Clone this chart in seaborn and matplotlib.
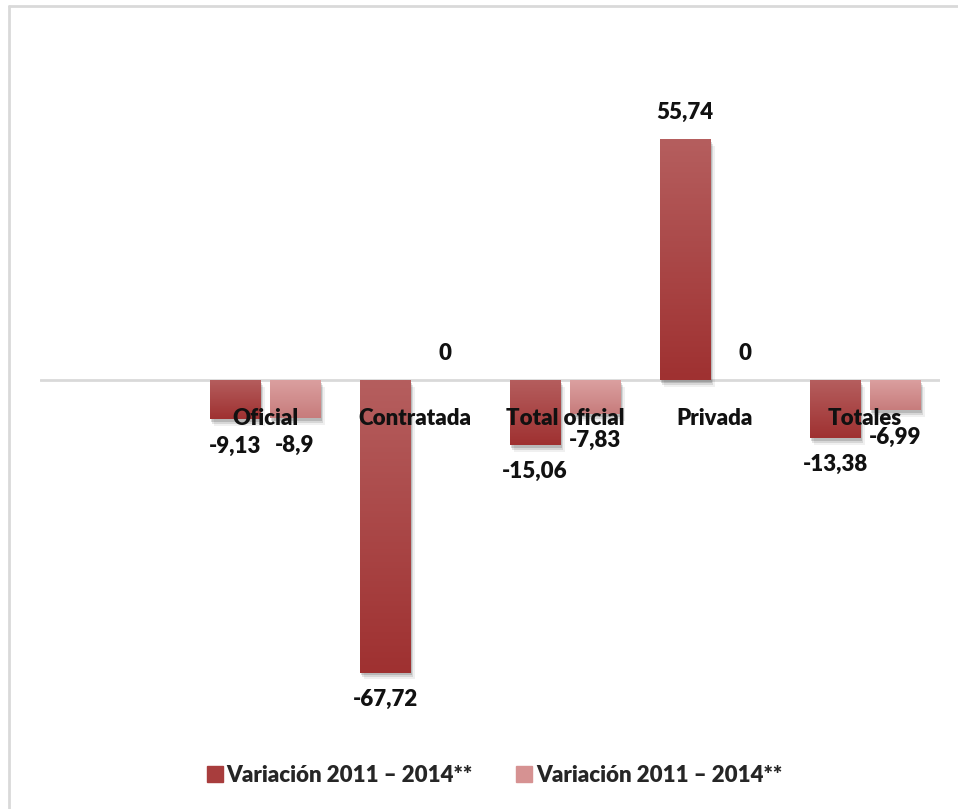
import numpy as np
import pandas as pd
import matplotlib
matplotlib.use("Agg")
import matplotlib.pyplot as plt
import matplotlib.patheffects as pe
from matplotlib.colors import LinearSegmentedColormap
from matplotlib.lines import Line2D
from matplotlib.patches import Rectangle
import seaborn as sns

categories = [" ", "Oficial", "Contratada", "Total oficial", "Privada", "Totales"]
data_categories = ["Oficial", "Contratada", "Total oficial", "Privada", "Totales"]
series_a = [-9.13, -67.72, -15.06, 55.74, -13.38]
series_b = [-8.9, 0.0, -7.83, 0.0, -6.99]
series_names = ["Variación 2011 – 2014**", "Variación 2011 – 2014** "]
label_a = ["-9,13", "-67,72", "-15,06", "55,74", "-13,38"]
label_b = ["-8,9", "0", "-7,83", "0", "-6,99"]

colors = ["#a83d3d", "#d69292"]
grad = [("#b55e5e", "#9f3131"), ("#dba0a0", "#c77c7c")]

df = pd.DataFrame({
    "cat": data_categories * 2,
    "val": series_a + series_b,
    "serie": [series_names[0]] * 5 + [series_names[1]] * 5,
})

sns.set_theme(style="white")
plt.rcParams["font.family"] = ["Lato", "DejaVu Sans"]

fig = plt.figure(figsize=(9.58, 8.09), dpi=100)
ax = fig.add_axes([40 / 958, 1 - 725.6 / 809, 900 / 958, 669.6 / 809])

sns.barplot(data=df, x="cat", y="val", hue="serie", order=categories,
            hue_order=series_names, palette=colors, width=0.8, gap=0.15,
            ax=ax, legend=False, saturation=1, errorbar=None)

ax.set_ylim(-80, 75)
ax.set_xlim(-0.5, 5.5)
for s in ax.spines.values():
    s.set_visible(False)
ax.set_xticks([])
ax.set_yticks([])
ax.set_xlabel("")
ax.set_ylabel("")
ax.axhline(0, color="#d9d9d9", lw=2, zorder=1)

# gradients and soft shadows on each bar
patches = [p for p in ax.patches if isinstance(p, Rectangle)]
for p in patches:
    fc = matplotlib.colors.to_hex(p.get_facecolor())
    idx = 0 if fc == colors[0] else 1
    h = p.get_height()
    if h == 0 or np.isnan(h):
        continue
    p.set_edgecolor("none")
    p.set_linewidth(0)
    x0, w, y0 = p.get_x(), p.get_width(), p.get_y()
    ylo, yhi = min(y0, y0 + h), max(y0, y0 + h)
    cmap = LinearSegmentedColormap.from_list("g", [grad[idx][1], grad[idx][0]])
    img = np.linspace(0, 1, 100).reshape(-1, 1)
    p.set_path_effects([
        pe.SimplePatchShadow(offset=(3, -5), shadow_rgbFace="#000000", alpha=0.06),
        pe.SimplePatchShadow(offset=(2, -3.5), shadow_rgbFace="#000000", alpha=0.10),
        pe.SimplePatchShadow(offset=(1, -2), shadow_rgbFace="#000000", alpha=0.14),
        pe.Normal()])
    p.set_zorder(2)
    im = ax.imshow(img, extent=[x0, x0 + w, ylo, yhi], origin="lower", cmap=cmap,
                   aspect="auto", zorder=2.5, interpolation="bilinear")
    im.set_clip_path(p)

fs = 16
fw = "heavy"
# category labels
for i, c in enumerate(data_categories):
    ax.text(i + 1, -8.8, c, ha="center", va="center", fontsize=fs, fontweight=fw,
            color="#111111", zorder=5)

# value labels
for i in range(5):
    for j, (vals, labs, off) in enumerate([(series_a, label_a, -0.2), (series_b, label_b, 0.2)]):
        v = vals[i]
        if v >= 0:
            y = v + 6.2
        else:
            y = v - 6.2
        ax.text(i + 1 + off, y, labs[i], ha="center", va="center", fontsize=fs,
                fontweight=fw, color="#111111", zorder=5)

# legend
handles = [Line2D([0], [0], marker="s", linestyle="none", markersize=12,
                  markerfacecolor=colors[k], markeredgecolor=colors[k]) for k in range(2)]
fig.legend(handles, ["Variación 2011 – 2014**", "Variación 2011 – 2014**"],
           loc="center", bbox_to_anchor=(493 / 958, 1 - 775 / 809), ncol=2,
           frameon=False, prop={"size": fs, "weight": fw}, handletextpad=0.05,
           columnspacing=1.8, handlelength=1.0)

# outer border (top and left)
fig.add_artist(Line2D([9 / 958, 1], [1 - 6 / 809, 1 - 6 / 809], color="#d9d9d9", lw=2,
                      transform=fig.transFigure))
fig.add_artist(Line2D([9 / 958, 9 / 958], [0, 1 - 6 / 809], color="#d9d9d9", lw=2,
                      transform=fig.transFigure))

fig.savefig("out.png", dpi=100)
